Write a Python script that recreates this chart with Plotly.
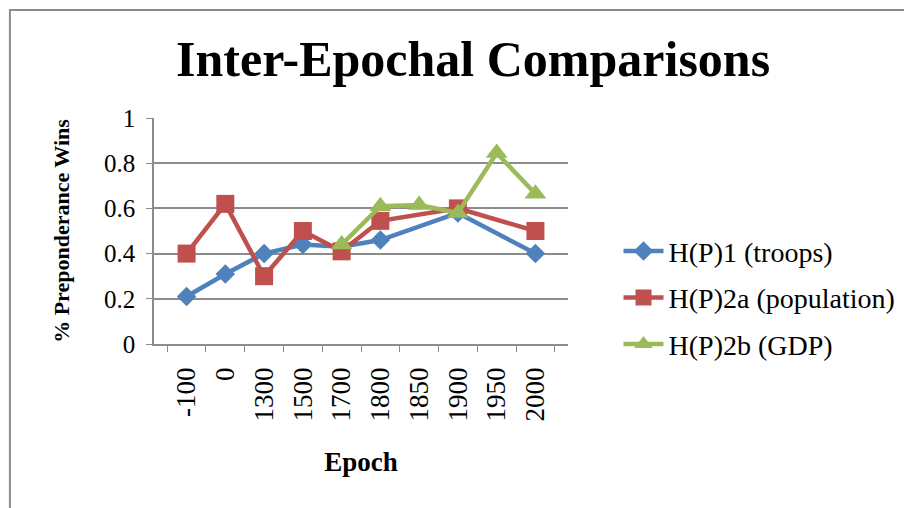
import plotly.graph_objects as go

epochs = ["-100", "0", "1300", "1500", "1700", "1800", "1850", "1900", "1950", "2000"]
troops = [0.21, 0.31, 0.40, 0.44, 0.43, 0.46, None, 0.58, None, 0.40]
population = [0.40, 0.62, 0.30, 0.50, 0.41, 0.545, None, 0.60, None, 0.50]
gdp = [None, None, None, None, 0.44, 0.61, 0.615, 0.58, 0.845, 0.665]
y_ticks = [0, 0.2, 0.4, 0.6, 0.8, 1]
y_tick_text = ["0", "0.2", "0.4", "0.6", "0.8", "1"]

FONT = "Liberation Serif"
GRAY = "#8c8c8c"

fig = go.Figure()
fig.add_trace(go.Scatter(x=epochs, y=troops, name="H(P)1 (troops)", mode="lines+markers",
                         connectgaps=True, legendgroup="a",
                         line=dict(color="#4F81BD", width=4.5),
                         marker=dict(symbol="diamond", size=15, color="#4F81BD")))
fig.add_trace(go.Scatter(x=epochs, y=population, name="H(P)2a (population)", mode="lines+markers",
                         connectgaps=True, legendgroup="b",
                         line=dict(color="#C0504D", width=4.5),
                         marker=dict(symbol="square", size=18, color="#C0504D")))
fig.add_trace(go.Scatter(x=epochs, y=gdp, name="H(P)2b (GDP)", mode="lines+markers",
                         connectgaps=True, legendgroup="c",
                         line=dict(color="#9BBB59", width=4.5),
                         marker=dict(symbol="triangle-up", size=19, color="#9BBB59")))

fig.update_layout(
    width=912, height=508,
    margin=dict(l=146, r=352, t=110, b=172),
    paper_bgcolor="white", plot_bgcolor="white",
    font=dict(family=FONT, color="black"),
    title=dict(text="<b>Inter-Epochal Comparisons</b>", x=0.51, xanchor="center",
               y=0.9, yanchor="middle", font=dict(size=50, family=FONT, color="black")),
    legend=dict(x=1.122, xanchor="left", y=0.204, yanchor="middle",
                font=dict(size=28, family=FONT), tracegroupgap=7,
                traceorder="grouped", itemwidth=40, bgcolor="rgba(0,0,0,0)"),
    xaxis=dict(type="category", showgrid=False, showline=True, linecolor=GRAY, linewidth=1.5,
               ticks="outside", tickson="boundaries", ticklen=6, tickcolor=GRAY,
               tickangle=-90, tickfont=dict(size=27, family=FONT), automargin=False,
               ticklabelstandoff=11,
               title=dict(text="<b>Epoch</b>", font=dict(size=27, family=FONT), standoff=32)),
    yaxis=dict(range=[0, 1], tickvals=y_ticks, ticktext=y_tick_text,
               showgrid=True, gridcolor=GRAY, gridwidth=1.5,
               showline=True, linecolor=GRAY, linewidth=1.5,
               ticks="outside", ticklen=6, tickcolor=GRAY, zeroline=False,
               tickfont=dict(size=25, family=FONT), automargin=False, ticklabelstandoff=6,
               title=dict(text="<b>% Preponderance Wins</b>", font=dict(size=22, family=FONT), standoff=28)),
    shapes=[dict(type="rect", xref="paper", yref="paper", x0=-0.348, x1=2.0, y0=-2.0, y1=1.478,
                 line=dict(color=GRAY, width=2), fillcolor="rgba(0,0,0,0)", layer="below")]
)

fig.write_html("out.html")
